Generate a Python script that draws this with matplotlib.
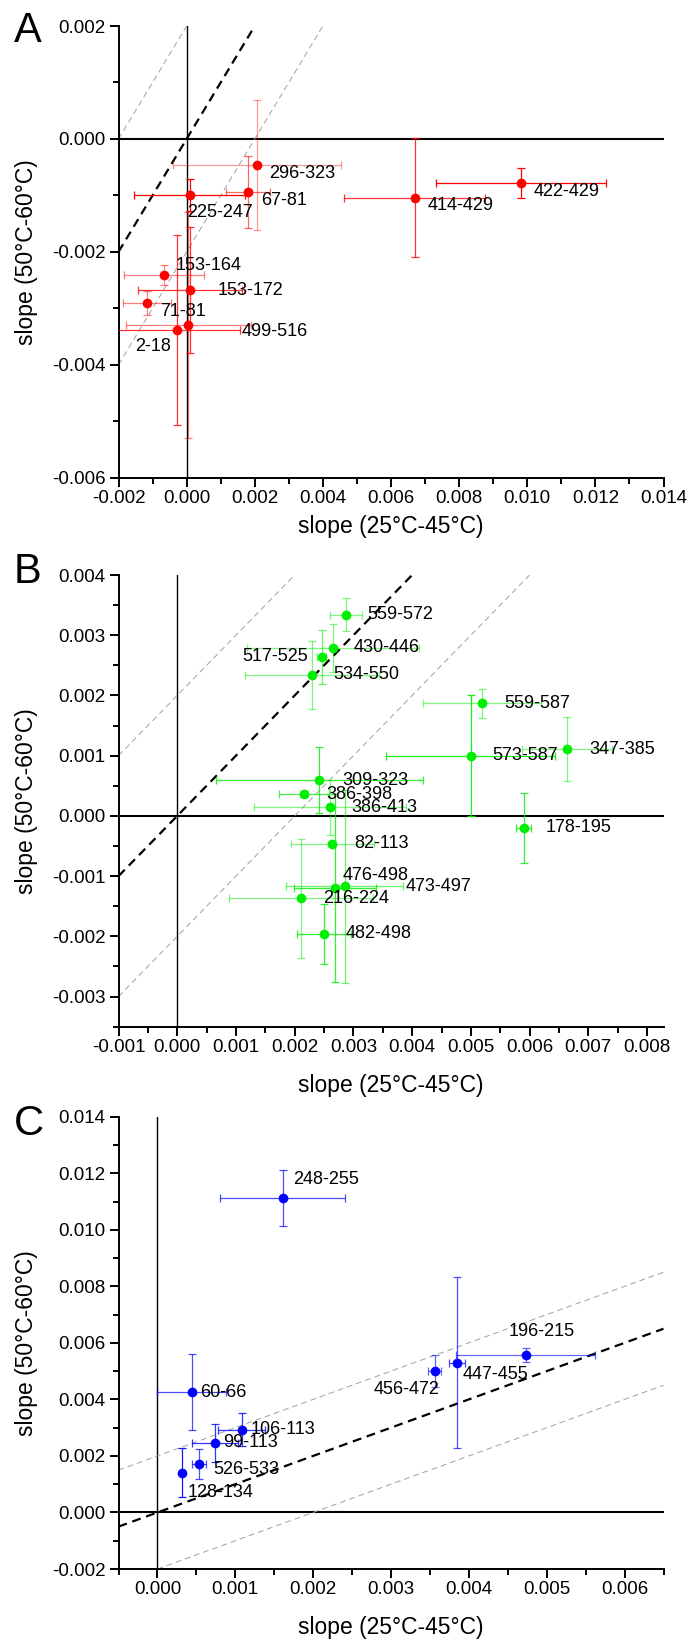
import matplotlib
matplotlib.use('Agg')
import matplotlib.pyplot as plt
from matplotlib.ticker import MultipleLocator, FormatStrFormatter

plt.rcParams['font.family'] = ['Liberation Sans', 'DejaVu Sans']
plt.rcParams['axes.unicode_minus'] = False

####################################### data, panel A (red)
a_labels = ['296-323', '67-81', '225-247', '414-429', '422-429',
            '153-164', '153-172', '71-81', '2-18', '499-516']
a_x = [0.00207, 0.00181, 0.00009, 0.00669, 0.00982, -0.00066, 0.00010, -0.00117, -0.00029, 0.00005]
a_y = [-0.00046, -0.00094, -0.00099, -0.00104, -0.00078, -0.00241, -0.00268, -0.00290, -0.00339, -0.00330]
a_xerr = [0.00246, 0.00064, 0.00163, 0.00206, 0.00250, 0.00118, 0.00153, 0.00071, 0.00186, 0.00183]
a_yerr = [0.00115, 0.00063, 0.00028, 0.00106, 0.00026, 0.00017, 0.00112, 0.00021, 0.00168, 0.00200]

####################################### data, panel B (green)
b_labels = ['559-572', '430-446', '517-525', '534-550', '559-587', '573-587', '347-385', '309-323',
            '386-398', '386-413', '178-195', '82-113', '476-498', '473-497', '216-224', '482-498']
b_x = [0.00287, 0.00265, 0.00246, 0.00230, 0.00519, 0.00500, 0.00664, 0.00242,
       0.00216, 0.00260, 0.00590, 0.00264, 0.00269, 0.00285, 0.00211, 0.00250]
b_y = [0.00334, 0.00279, 0.00264, 0.00234, 0.00187, 0.00100, 0.00111, 0.00059,
       0.00036, 0.00014, -0.00020, -0.00046, -0.00119, -0.00117, -0.00137, -0.00196]
b_xerr = [0.00027, 0.00146, 0.00008, 0.00114, 0.00100, 0.00144, 0.00077, 0.00176,
          0.00042, 0.00129, 0.00013, 0.00071, 0.00070, 0.00100, 0.00122, 0.00046]
b_yerr = [0.00027, 0.00040, 0.00045, 0.00057, 0.00024, 0.00100, 0.00053, 0.00055,
          0.00005, 0.00045, 0.00058, 0.00005, 0.00156, 0.00160, 0.00099, 0.00050]

####################################### data, panel C (blue)
c_labels = ['248-255', '196-215', '447-455', '456-472', '60-66', '106-113', '99-113', '526-533', '128-134']
c_x = [0.00161, 0.00473, 0.00385, 0.00356, 0.00044, 0.00108, 0.00074, 0.00053, 0.00032]
c_y = [0.01112, 0.00556, 0.00530, 0.00500, 0.00426, 0.00293, 0.00246, 0.00171, 0.00141]
c_xerr = [0.00080, 0.00089, 0.00010, 0.00008, 0.00044, 0.00030, 0.00029, 0.00009, 0.00002]
c_yerr = [0.00098, 0.00025, 0.00303, 0.00056, 0.00133, 0.00059, 0.00067, 0.00052, 0.00088]

# error bar fading and label placement (pixels, ha)
a_alpha = [0.4, 0.6, 1, 0.8, 1, 0.5, 0.8, 0.5, 0.8, 0.5]
b_alpha = [0.5, 0.5, 0.6, 0.5, 0.5, 0.9, 0.5, 0.8, 0.7, 0.5, 0.8, 0.5, 0.8, 0.6, 0.5, 0.8]
c_alpha = [0.7, 0.6, 0.7, 0.6, 0.7, 0.8, 0.8, 0.7, 0.9]
a_off = [(12, -9, 'left'), (13, -9, 'left'), (-3, -18, 'left'), (13, -8, 'left'), (13, -9, 'left'),
         (11, 9, 'left'), (28, 0, 'left'), (13, -9, 'left'), (-42, -16, 'left'), (53, -6, 'left')]
b_off = [(22, 0, 'left'), (21, 0, 'left'), (-14, 0, 'right'), (21, 0, 'left'), (22, 0, 'left'),
         (21, 0, 'left'), (22, 0, 'left'), (23, 0, 'left'), (22, 0, 'left'), (21, 0, 'left'),
         (22, 0, 'left'), (22, 0, 'left'), (7, 12, 'left'), (61, 0, 'left'), (22, 0, 'left'), (22, 0, 'left')]
c_off = [(10, 19, 'left'), (-17, 24, 'left'), (5, -12, 'left'), (5, -18, 'right'), (8, 0, 'left'),
         (9, 0, 'left'), (8, 0, 'left'), (15, -5, 'left'), (5, -20, 'left')]

W, H = 688, 1641
fig = plt.figure(figsize=(W / 100, H / 100), dpi=100)


def panel(top, bottom, xs, ys, xe, ye, labels, alphas, offs, col, xlim, ylim, xmaj, ymaj, letter, lety, xlabpos):
    ax = fig.add_axes([118.5 / W, 1 - bottom / H, 545 / W, (bottom - top) / H])
    ax.set_xlim(xlim)
    ax.set_ylim(ylim)
    ax.axhline(0, color='k', lw=1.5, zorder=1)
    ax.axvline(0, color='k', lw=1.0, zorder=1)
    ax.axline((0, 0), slope=1, color='k', lw=1.6, ls=(0, (4, 2.6)), zorder=2)
    ax.axline((0, 0.002), slope=1, color='#a0a0a0', lw=0.7, ls=(0, (6, 4)), zorder=2)
    ax.axline((0, -0.002), slope=1, color='#a0a0a0', lw=0.7, ls=(0, (6, 4)), zorder=2)
    for i in range(len(xs)):
        ax.errorbar(xs[i], ys[i], xerr=xe[i], yerr=ye[i], fmt='none', ecolor=col,
                    alpha=alphas[i], elinewidth=0.9, capsize=3, capthick=0.9, zorder=3)
    ax.plot(xs, ys, 'o', color=col, ms=7, mec='none', zorder=5)
    for i in range(len(xs)):
        ax.annotate(labels[i], (xs[i], ys[i]), xytext=(offs[i][0], offs[i][1]),
                    textcoords='offset pixels', ha=offs[i][2], va='center', fontsize=13, zorder=6)
    for s in ['top', 'right']:
        ax.spines[s].set_visible(False)
    for s in ['left', 'bottom']:
        ax.spines[s].set_linewidth(1.4)
    ax.xaxis.set_major_locator(MultipleLocator(xmaj))
    ax.xaxis.set_minor_locator(MultipleLocator(xmaj / 2))
    ax.yaxis.set_major_locator(MultipleLocator(ymaj))
    ax.yaxis.set_minor_locator(MultipleLocator(ymaj / 2))
    ax.xaxis.set_major_formatter(FormatStrFormatter('%.3f'))
    ax.yaxis.set_major_formatter(FormatStrFormatter('%.3f'))
    ax.tick_params(which='major', direction='out', length=6.5, width=1.4, labelsize=13.5)
    ax.tick_params(which='minor', direction='out', length=4, width=1.4)
    ax.tick_params(axis='x', pad=2.5)
    ax.tick_params(axis='y', pad=3)
    ax.set_xlabel('slope (25°C-45°C)', fontsize=16.5)
    ax.set_ylabel('slope (50°C-60°C)', fontsize=16.5)
    ax.xaxis.set_label_coords(0.5, xlabpos)
    ax.yaxis.set_label_coords(-0.148, 0.5)
    fig.text(14 / W, 1 - lety / H, letter, fontsize=30, va='baseline', ha='left')
    return ax


panel(26, 477.7, a_x, a_y, a_xerr, a_yerr, a_labels, a_alpha, a_off, '#ff0000',
      (-0.002, 0.014), (-0.006, 0.002), 0.002, 0.002, 'A', 41.7, -0.083)
panel(575, 1026.7, b_x, b_y, b_xerr, b_yerr, b_labels, b_alpha, b_off, '#00ee00',
      (-0.001, 0.00828), (-0.0035, 0.004), 0.001, 0.001, 'B', 583.3, -0.104)
panel(1116.7, 1569, c_x, c_y, c_xerr, c_yerr, c_labels, c_alpha, c_off, '#0000ff',
      (-0.0005, 0.0065), (-0.002, 0.014), 0.001, 0.002, 'C', 1135, -0.104)

plt.savefig('out.png', dpi=100)
